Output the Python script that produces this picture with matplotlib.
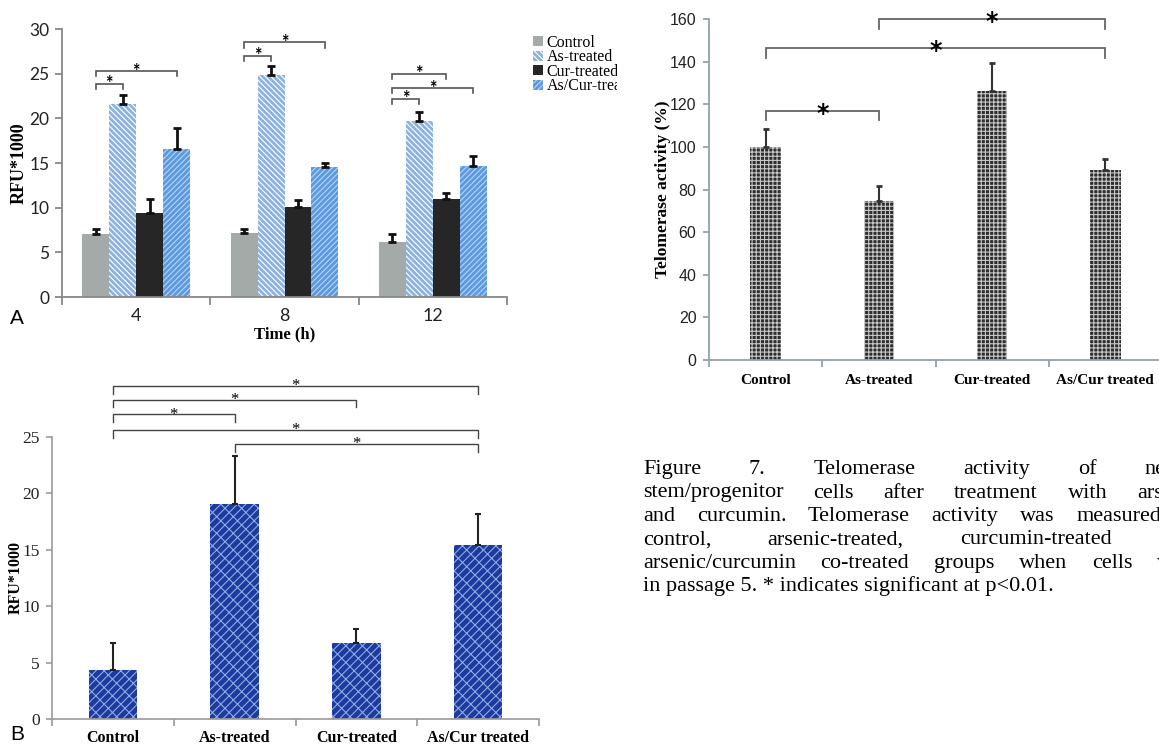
import matplotlib
matplotlib.use('Agg')
import numpy as np
import matplotlib.pyplot as plt
from matplotlib.patches import Rectangle
from matplotlib import font_manager

W, H = 1159, 749
plt.rcParams['hatch.linewidth'] = 0.8
fig = plt.figure(figsize=(W / 100, H / 100), dpi=100)

SERIF = 'Liberation Serif'
SANS = 'Lato'
names = {f.name for f in font_manager.fontManager.ttflist}
NARROW = 'Liberation Sans Narrow' if 'Liberation Sans Narrow' in names else 'Liberation Sans'

# ---- data: panel A (time course) ----
times = ['4', '8', '12']
a_names = ['Control', 'As-treated', 'Cur-treated', 'As/Cur-treated']
a_control = [7.0, 7.2, 6.2]
a_as = [21.6, 24.9, 19.7]
a_cur = [9.4, 10.1, 11.0]
a_ascur = [16.6, 14.6, 14.7]
a_control_err = [0.6, 0.4, 0.9]
a_as_err = [1.0, 1.0, 1.0]
a_cur_err = [1.6, 0.8, 0.6]
a_ascur_err = [2.3, 0.4, 1.1]
# (time index, bar from, bar to, bracket height)
a_sig = [(0, 0, 1, 23.85), (0, 0, 3, 25.3), (1, 0, 1, 27.0), (1, 0, 3, 28.5),
         (2, 0, 1, 22.2), (2, 0, 3, 23.4), (2, 0, 2, 25.0)]

# ---- data: telomerase activity ----
c_names = ['Control', 'As-treated', 'Cur-treated', 'As/Cur treated']
c_vals = [100, 74.8, 126.4, 89]
c_err = [8.3, 6.7, 12.9, 5.2]
c_sig = [(0, 1, 116.9), (0, 3, 146.3), (1, 3, 160)]

# ---- data: panel B ----
b_names = ['Control', 'As-treated', 'Cur-treated', 'As/Cur treated']
b_vals = [4.35, 19.1, 6.7, 15.4]
b_err = [2.35, 4.2, 1.25, 2.8]
b_sig = [(0, 3, 29.5), (0, 2, 28.3), (0, 1, 27.0), (0, 3, 25.6), (1, 3, 24.35)]

caption = [
    'Figure 7. Telomerase activity of neural',
    'stem/progenitor cells after treatment with arsenic',
    'and curcumin. Telomerase activity was measured in',
    'control, arsenic-treated, curcumin-treated and',
    'arsenic/curcumin co-treated groups when cells were',
    'in passage 5. * indicates significant at p<0.01.',
]


def box(x0, y0, x1, y1):
    return [x0 / W, 1 - y1 / H, (x1 - x0) / W, (y1 - y0) / H]


def style_axes(ax, color, lw, n):
    for s in ['top', 'right']:
        ax.spines[s].set_visible(False)
    for s in ['left', 'bottom']:
        ax.spines[s].set_color(color)
        ax.spines[s].set_linewidth(lw)
    ax.set_xlim(-0.5, n - 0.5)
    ax.set_xticks(np.arange(n + 1) - 0.5)
    ax.set_xticklabels([])
    ax.set_xticks(np.arange(n), minor=True)
    ax.tick_params(axis='both', which='major', direction='out', color=color, width=lw)
    ax.tick_params(axis='x', which='minor', length=0)


def bracket(ax, x0, x1, y, drop, color, lw, size, family, weight, off):
    ax.plot([x0, x0, x1, x1], [y - drop, y, y, y - drop], color=color, lw=lw,
            clip_on=False, solid_joinstyle='miter')
    ax.annotate('*', xy=((x0 + x1) / 2, y), xytext=(0, off), textcoords='offset points',
                ha='center', va='baseline', fontsize=size, family=family,
                fontweight=weight, annotation_clip=False)


# ================= panel A =================
axA = fig.add_axes(box(62, 29, 507, 297))
style_axes(axA, '#878787', 1.3, 3)
x = np.arange(3)
bw = 0.182
offs = (np.arange(4) - 1.5) * bw
a_series = [a_control, a_as, a_cur, a_ascur]
a_series_err = [a_control_err, a_as_err, a_cur_err, a_ascur_err]
a_face = ['#a4aaa7', '#8cb2e2', '#262626', '#5b9ae0']
a_edge = ['#a4aaa7', '#ffffff', '#262626', '#b8d4f4']
a_hatch = [None, '\\\\\\\\\\\\', None, '//////']
handles = []
for k in range(4):
    b = axA.bar(x + offs[k], a_series[k], bw, color=a_face[k], edgecolor=a_edge[k],
                hatch=a_hatch[k], linewidth=0, label=a_names[k])
    handles.append(b)
    axA.errorbar(x + offs[k], a_series[k], yerr=[np.zeros(3), a_series_err[k]],
                 fmt='none', ecolor='#111111', elinewidth=2, capsize=3, capthick=2)
for t, i, j, y in a_sig:
    bracket(axA, t + offs[i], t + offs[j], y, 0.6, '#555555', 1.2, 13, SANS, 'bold', -4)
axA.set_ylim(0, 30)
axA.set_yticks(range(0, 31, 5))
axA.set_xticks(x, times, minor=True)
axA.tick_params(axis='y', length=5, pad=4, labelsize=12.5, labelcolor='#222222')
axA.tick_params(axis='x', which='major', length=6)
axA.tick_params(axis='x', which='minor', labelsize=13, pad=8, labelcolor='#222222')
for lab in axA.get_yticklabels() + axA.get_xticklabels(minor=True):
    lab.set_family(SANS)
axA.set_ylabel('RFU*1000', family=SERIF, fontweight='bold', fontsize=13)
axA.yaxis.set_label_coords(-0.078, 0.5)
axA.set_xlabel('Time (h)', family=SERIF, fontweight='bold', fontsize=12)
axA.xaxis.set_label_coords(0.5, -0.11)
axA.legend(handles=handles, loc='upper left', bbox_to_anchor=(533 / W, 1 - 35 / H),
           bbox_transform=fig.transFigure, frameon=False,
           prop={'family': SERIF, 'size': 11.5}, handlelength=0.6, handleheight=0.6,
           handletextpad=0.25, labelspacing=-0.1, borderpad=0, borderaxespad=0)
# the neighbouring panel cuts the legend text off
fig.add_artist(Rectangle((617 / W, 1 - 100 / H), 32 / W, 72 / H, transform=fig.transFigure,
                         facecolor='white', edgecolor='none', zorder=5))

# ================= telomerase panel =================
axC = fig.add_axes(box(709, 19, 1162, 360))
style_axes(axC, '#8fa3ab', 1.3, 4)
xc = np.arange(4)
axC.bar(xc, c_vals, 0.27, color='#2e2e2e', edgecolor='#c8c8c8', hatch='++++', linewidth=0)
axC.errorbar(xc, c_vals, yerr=[np.zeros(4), c_err], fmt='none', ecolor='#333333',
             elinewidth=1.5, capsize=2, capthick=2)
for i, j, y in c_sig:
    bracket(axC, i, j, y, 4.5, '#666666', 1.3, 17, 'DejaVu Sans', 'bold', -7)
axC.set_ylim(0, 160)
axC.set_yticks(range(0, 161, 20))
axC.set_xticks(xc, c_names, minor=True)
axC.tick_params(axis='y', length=4, pad=5, labelsize=11.5, labelcolor='#222222')
axC.tick_params(axis='x', which='major', length=5)
axC.tick_params(axis='x', which='minor', labelsize=11, pad=10)
for lab in axC.get_yticklabels():
    lab.set_family(NARROW)
for lab in axC.get_xticklabels(minor=True):
    lab.set_family(SERIF)
    lab.set_fontweight('bold')
axC.set_ylabel('Telomerase activity (%)', family=SERIF, fontweight='bold', fontsize=12.5)
axC.yaxis.set_label_coords(-0.084, 0.5)

# ================= panel B =================
axB = fig.add_axes(box(52, 437, 539, 719))
style_axes(axB, '#9a9a9a', 1.2, 4)
xb = np.arange(4)
axB.bar(xb, b_vals, 0.40, color='#1c3b9d', edgecolor='#8eaae8', hatch='////\\\\',
        linewidth=0)
axB.errorbar(xb, b_vals, yerr=[np.zeros(4), b_err], fmt='none', ecolor='#222222',
             elinewidth=1.5, capsize=2, capthick=1.5)
for i, j, y in b_sig:
    bracket(axB, i, j, y, 0.65, '#444444', 1.0, 12, SERIF, 'normal', -3)
axB.set_ylim(0, 25)
axB.set_yticks(range(0, 26, 5))
axB.set_xticks(xb, b_names, minor=True)
axB.tick_params(axis='y', length=4, pad=5, labelsize=12.5, labelcolor='#222222')
axB.tick_params(axis='x', which='major', length=5)
axB.tick_params(axis='x', which='minor', labelsize=11.5, pad=8)
for lab in axB.get_yticklabels():
    lab.set_family(SERIF)
for lab in axB.get_xticklabels(minor=True):
    lab.set_family(SERIF)
    lab.set_fontweight('bold')
axB.set_ylabel('RFU*1000', family=SERIF, fontweight='bold', fontsize=11.5)
axB.yaxis.set_label_coords(-0.058, 0.5)

# panel letters
fig.text(10 / W, 1 - 318 / H, 'A', family='Liberation Sans', fontsize=15, va='center')
fig.text(10 / W, 1 - 735 / H, 'B', family='Liberation Sans', fontsize=15, va='center')

# ================= caption (justified) =================
renderer = fig.canvas.get_renderer()
left, right = 643, 1200
for n, line in enumerate(caption):
    yb = 1 - (474 + n * 23.5) / H
    if n == len(caption) - 1:
        fig.text(left / W, yb, line, family=SERIF, fontsize=16, va='baseline')
        continue
    words = line.split()
    ts = [fig.text(0, yb, w, family=SERIF, fontsize=16, va='baseline') for w in words]
    widths = [t.get_window_extent(renderer).width for t in ts]
    gap = (right - left - sum(widths)) / (len(words) - 1)
    pos = left
    for t, w in zip(ts, widths):
        t.set_x(pos / W)
        pos += w + gap

fig.savefig('out.png', dpi=100)
